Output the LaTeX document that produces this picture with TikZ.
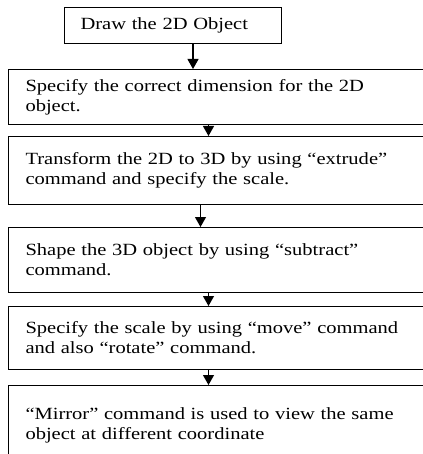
\documentclass[tikz,border=0pt]{standalone}
\usepackage{fontspec}
\setmainfont{Liberation Serif}[FakeStretch=1.2]
\usetikzlibrary{arrows.meta,positioning}
\tikzset{
    %Define standard arrow tip
    >={Triangle[width=11pt,length=10pt]},
    %Define style for the process boxes
    procbox/.style={
           rectangle,
           draw=black, line width=1pt,
           anchor=north west,
           inner xsep=17pt,
           inner ysep=0pt,
           align=left,
           text width=398pt,
           font=\fontsize{17.1}{20}\selectfont},
    % Define arrow style
    flow/.style={
           ->,
           line width=1.1pt}
}
\begin{document}
\begin{tikzpicture}
\useasboundingbox (0,0) rectangle (422pt,-454pt);
 %boxes
\node[procbox, inner xsep=16pt, text width=185pt, minimum height=36pt] (b1) at (64pt,-7pt)
  {Draw the 2D Object};
\node[procbox, minimum height=55pt] (b2) at (8pt,-69pt)
  {Specify the correct dimension for the 2D\\ object.};
\node[procbox, minimum height=68pt] (b3) at (8pt,-136pt)
  {Transform the 2D to 3D by using ``extrude''\\ command and specify the scale.};
\node[procbox, minimum height=65pt] (b4) at (8pt,-227pt)
  {Shape the 3D object by using ``subtract''\\ command.};
\node[procbox, minimum height=63pt] (b5) at (8pt,-306pt)
  {Specify the scale by using ``move'' command\\ and also ``rotate'' command.};
\node[procbox, minimum height=80pt] (b6) at (8pt,-385pt)
  {``Mirror'' command is used to view the same\\ object at different coordinate};
 %arrows
\draw[flow] ([xshift=20pt]b1.south) -- ([xshift=20pt]b1.south |- b2.north);
\draw[flow] ([xshift=-16pt]b2.south) -- ([xshift=-16pt]b2.south |- b3.north);
\draw[flow] ([xshift=-24pt]b3.south) -- ([xshift=-24pt]b3.south |- b4.north);
\draw[flow] ([xshift=-16pt]b4.south) -- ([xshift=-16pt]b4.south |- b5.north);
\draw[flow] ([xshift=-16pt]b5.south) -- ([xshift=-16pt]b5.south |- b6.north);
\end{tikzpicture}
\end{document}
